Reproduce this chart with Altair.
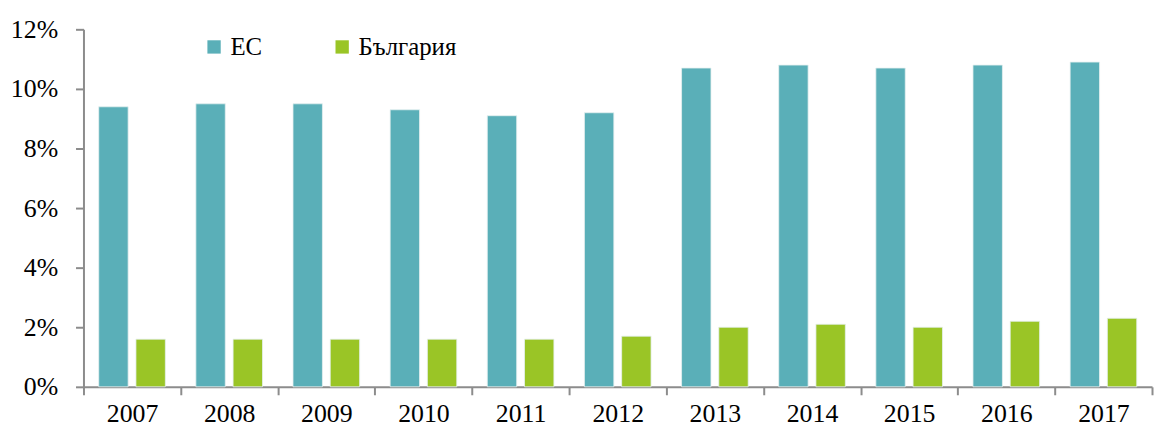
import altair as alt
import pandas as pd

years = ["2007", "2008", "2009", "2010", "2011", "2012", "2013", "2014", "2015", "2016", "2017"]
eu = [9.4, 9.5, 9.5, 9.3, 9.1, 9.2, 10.7, 10.8, 10.7, 10.8, 10.9]
bg = [1.6, 1.6, 1.6, 1.6, 1.6, 1.7, 2.0, 2.1, 2.0, 2.2, 2.3]
series = ["ЕС", "България"]
colors = ["#5AAFB8", "#9AC526"]

rows = []
for y, a, b in zip(years, eu, bg):
    rows.append({"year": y, "series": series[0], "value": a / 100})
    rows.append({"year": y, "series": series[1], "value": b / 100})
df = pd.DataFrame(rows)

FONT = "Liberation Serif"
AX = "#8C8C8C"
FS = 26

chart = alt.Chart(df).mark_bar(stroke="#E6F0F0", strokeWidth=0.8).encode(
    x=alt.X("year:N", sort=years, title=None,
            scale=alt.Scale(paddingInner=0, paddingOuter=0),
            axis=alt.Axis(labelAngle=0, tickBand="extent", tickSize=8, labelPadding=6,
                          labelFont=FONT, labelFontSize=FS, labelColor="#000000",
                          domainColor=AX, tickColor=AX, domainWidth=2, tickWidth=2)),
    xOffset=alt.XOffset("series:N", sort=series,
                        scale=alt.Scale(paddingInner=0.21, paddingOuter=0.41)),
    y=alt.Y("value:Q", title=None,
            scale=alt.Scale(domain=[0, 0.12], nice=False),
            axis=alt.Axis(format=".0%", values=[0, 0.02, 0.04, 0.06, 0.08, 0.1, 0.12],
                          grid=False, tickSize=8, labelPadding=18,
                          labelFont=FONT, labelFontSize=FS, labelColor="#000000",
                          domainColor=AX, tickColor=AX, domainWidth=2, tickWidth=2)),
    color=alt.Color("series:N", sort=series,
                    scale=alt.Scale(domain=series, range=colors),
                    legend=alt.Legend(title=None, orient="none", legendX=119, legendY=5,
                                      direction="horizontal", symbolType="square",
                                      symbolSize=180, symbolStrokeWidth=0,
                                      labelFont=FONT, labelFontSize=25, labelColor="#000000",
                                      labelOffset=4, columnPadding=68, gridAlign="each")),
).properties(
    width=1076,
    height=360,
    autosize=alt.AutoSizeParams(type="none"),
    padding={"left": 76, "top": 20, "right": 2, "bottom": 40},
).configure_view(strokeWidth=0)

chart.save("out.html", embed_options={"renderer": "svg", "actions": False})
